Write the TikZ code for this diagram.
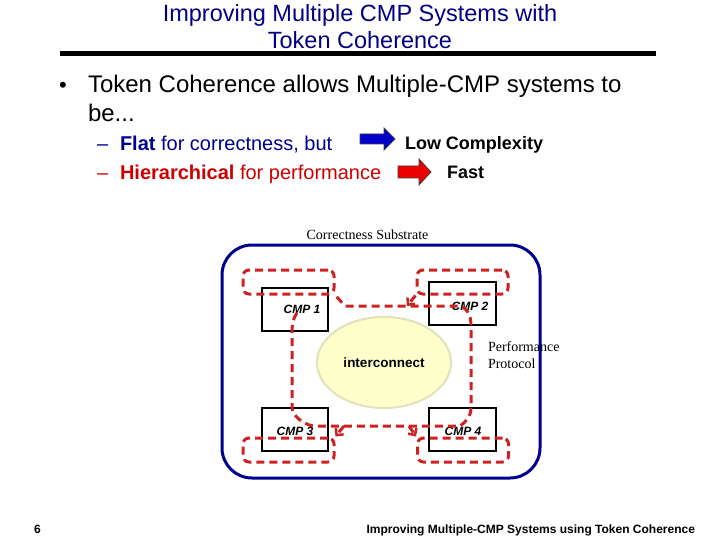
\documentclass[tikz,border=0pt]{standalone}
\usepackage{fontspec}
\setmainfont{Liberation Sans}
\newfontfamily\seriffont{Liberation Serif}
\usetikzlibrary{arrows.meta,shapes.geometric}
\definecolor{titleblue}{HTML}{000080}
\definecolor{flatblue}{HTML}{00008C}
\definecolor{hierred}{HTML}{CC0000}
\definecolor{dashred}{HTML}{CC2222}
\definecolor{framenavy}{HTML}{000090}
\definecolor{icfill}{HTML}{FFFFCC}
\definecolor{icedge}{HTML}{E2E2B8}
\definecolor{arrblue}{HTML}{0000CC}
\definecolor{arrred}{HTML}{EE0000}
\begin{document}
\begin{tikzpicture}[x=1pt,y=-1pt,
  txt/.style={inner sep=0pt, outer sep=0pt},
  cmpbox/.style={draw=black, line width=1.5pt, minimum width=66pt, minimum height=43pt, inner sep=0pt},
  cmplabel/.style={txt, font=\fontsize{12}{14}\selectfont\bfseries\itshape},
  cachebox/.style={draw=dashred, line width=3pt, dash pattern=on 8pt off 5pt, rounded corners=6pt, minimum width=91pt, minimum height=24pt, inner sep=0pt},
  ringline/.style={draw=dashred, line width=3pt, dash pattern=on 8pt off 5pt},
  tip/.style={-{Straight Barb[length=5pt,width=10pt,line width=2.5pt]}},
  blockarrow/.style={line width=0.8pt, line join=miter}
]
\useasboundingbox (0,0) rectangle (720,540);
\fill[white] (0,0) rectangle (720,540);

% title
\node[txt, anchor=base, font=\fontsize{23.5}{27}\selectfont, text=titleblue] (t1) at (360,22) {Improving Multiple CMP Systems with};
\node[txt, anchor=base, font=\fontsize{23.5}{27}\selectfont, text=titleblue] (t2) at (360,49) {Token Coherence};
\coordinate (ruleL) at (60,54);
\coordinate (ruleR) at (656,54);
\draw[line width=5pt] (ruleL) -- (ruleR);

% bullets
\node[txt, anchor=base west, font=\fontsize{22}{26}\selectfont] (bul) at (59,93) {•};
\node[txt, anchor=base west, font=\fontsize{24}{28}\selectfont] (b1) at (88,93) {Token Coherence allows Multiple-CMP systems to};
\node[txt, anchor=base west, font=\fontsize{24}{28}\selectfont] (b2) at (88,122) {be...};
\node[txt, anchor=base west, font=\fontsize{20}{24}\selectfont, text=flatblue] (s1) at (97,151) {\makebox[23pt][l]{–}\textbf{Flat} for correctness, but};
\node[txt, anchor=base west, font=\fontsize{20}{24}\selectfont, text=hierred] (s2) at (97,180) {\makebox[23pt][l]{–}\textbf{Hierarchical} for performance};
\node[txt, anchor=base west, font=\fontsize{18}{22}\selectfont\bfseries] (lc) at (405,150) {Low Complexity};
\node[txt, anchor=base west, font=\fontsize{18}{22}\selectfont\bfseries] (fast) at (447,179) {Fast};

% block arrows
\filldraw[blockarrow, fill=arrblue, draw=black!75] (360,134) -- (384,134) -- (384,128) -- (395,139) -- (384,150) -- (384,144) -- (360,144) -- cycle;
\filldraw[blockarrow, fill=arrred, draw=black!75] (398,166) -- (419,166) -- (419,159) -- (431,172) -- (419,185) -- (419,178) -- (398,178) -- cycle;

% diagram
\node[txt, anchor=base, font=\seriffont\fontsize{14}{16}\selectfont] (cs) at (367.5,240) {Correctness Substrate};
\node[draw=framenavy, line width=3pt, rounded corners=30pt, minimum width=318pt, minimum height=233pt, inner sep=0pt] (sub) at (381,361.5) {};

\node[ellipse, draw=icedge, line width=2pt, fill=icfill, minimum width=134pt, minimum height=91pt, inner sep=0pt, font=\fontsize{13.5}{16}\selectfont\bfseries] (ic) at (384,362.5) {interconnect};

\node[txt, anchor=base west, font=\seriffont\fontsize{14}{17}\selectfont, align=left] (pp1) at (488,351) {Performance};
\node[txt, anchor=base west, font=\seriffont\fontsize{14}{17}\selectfont, align=left] (pp2) at (488,368) {Protocol};

\node[cmpbox] (c1) at (295,309.5) {};
\node[cmpbox, minimum width=67pt] (c2) at (462.5,303.5) {};
\node[cmpbox] (c3) at (295,429.5) {};
\node[cmpbox, minimum width=67pt] (c4) at (462.5,429.5) {};
\node[cmplabel] (l1) at (302,309) {CMP 1};
\node[cmplabel] (l2) at (470,306) {CMP 2};
\node[cmplabel] (l3) at (295,431) {CMP 3};
\node[cmplabel] (l4) at (463,431) {CMP 4};

\node[cachebox] (cTL) at (288.5,282) {};
\node[cachebox] (cTR) at (462.5,282) {};
\node[cachebox] (cBL) at (288.5,450) {};
\node[cachebox] (cBR) at (463,450) {};

% ring
\coordinate (rs) at (297,313);
\coordinate (jT) at (407,306);
\coordinate (jBL) at (344,426);
\coordinate (jBR) at (409,426);
\draw[ringline] (rs) .. controls (293,318) and (292,325) .. (292,332) -- (292,408)
  .. controls (293,416) and (303,424) .. (313,426) -- (460,426)
  .. controls (466,422) and (471,416) .. (471,408) -- (471,325)
  .. controls (471,315) and (467,307) .. (458,306) -- (345,306) -- (cTL.south east);
\draw[ringline, tip] (cTR.south west) -- (jT);
\draw[ringline, tip] (jBL) -- (cBL.north east);
\draw[ringline, tip] (jBR) -- (cBR.north west);

% footer
\node[txt, anchor=base west, font=\fontsize{12}{14}\selectfont\bfseries] (pg) at (34,533) {6};
\node[txt, anchor=base east, font=\fontsize{12}{14}\selectfont\bfseries] (ft) at (695,533) {Improving Multiple-CMP Systems using Token Coherence};
\end{tikzpicture}
\end{document}
